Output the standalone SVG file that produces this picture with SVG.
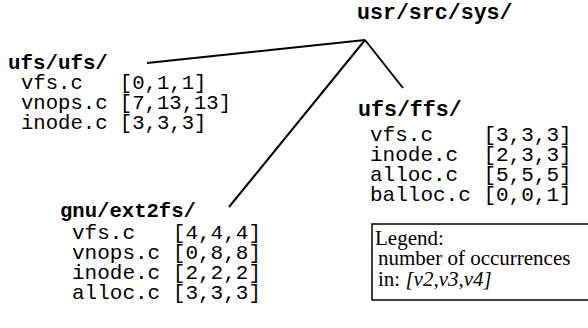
<svg xmlns="http://www.w3.org/2000/svg" width="588" height="328" viewBox="0 0 588 328">
<style>
.hd{font-family:"Liberation Mono","Courier New",monospace;font-weight:bold;font-size:21px;fill:#000}
.it{font-family:"Liberation Mono","Courier New",monospace;font-size:21px;fill:#000;white-space:pre}
.lg{font-family:"Liberation Serif","Times New Roman",serif;font-size:21px;fill:#000}
.cn{stroke:#000;stroke-width:2;fill:none}
</style>
<rect width="588" height="328" fill="#fff"/>
<g id="connectors">
<line class="cn" x1="365" y1="40" x2="147" y2="63"/>
<line class="cn" x1="365" y1="40" x2="403" y2="88"/>
<line class="cn" x1="365" y1="40" x2="229" y2="207"/>
</g>
<g id="root"><text class="hd" x="357" y="19" style="font-size:21.6px">usr/src/sys/</text></g>
<g id="ufs-ufs">
<text class="hd" x="8" y="69" style="font-size:20.8px">ufs/ufs/</text>
<text class="it" x="21" y="89" style="font-size:20.6px" xml:space="preserve">vfs.c   [0,1,1]</text>
<text class="it" x="21" y="109" style="font-size:20.6px" xml:space="preserve">vnops.c [7,13,13]</text>
<text class="it" x="21" y="129" style="font-size:20.6px" xml:space="preserve">inode.c [3,3,3]</text>
</g>
<g id="ufs-ffs">
<text class="hd" x="358" y="116" style="font-size:21.6px">ufs/ffs/</text>
<text class="it" x="370" y="141" xml:space="preserve">vfs.c    [3,3,3]</text>
<text class="it" x="370" y="161" xml:space="preserve">inode.c  [2,3,3]</text>
<text class="it" x="370" y="181" xml:space="preserve">alloc.c  [5,5,5]</text>
<text class="it" x="370" y="201" xml:space="preserve">balloc.c [0,0,1]</text>
</g>
<g id="gnu-ext2fs">
<text class="hd" x="60" y="217" style="font-size:20.6px">gnu/ext2fs/</text>
<text class="it" x="72" y="239" xml:space="preserve">vfs.c   [4,4,4]</text>
<text class="it" x="72" y="259" xml:space="preserve">vnops.c [0,8,8]</text>
<text class="it" x="72" y="279" xml:space="preserve">inode.c [2,2,2]</text>
<text class="it" x="72" y="299" xml:space="preserve">alloc.c [3,3,3]</text>
</g>
<g id="legend">
<rect x="372" y="224" width="230" height="76" fill="none" stroke="#000" stroke-width="1.5"/>
<text class="lg" x="375" y="245">Legend:</text>
<text class="lg" x="378" y="265">number of occurrences</text>
<text class="lg" x="378" y="286">in: <tspan font-style="italic">[v2,v3,v4]</tspan></text>
</g>
</svg>
